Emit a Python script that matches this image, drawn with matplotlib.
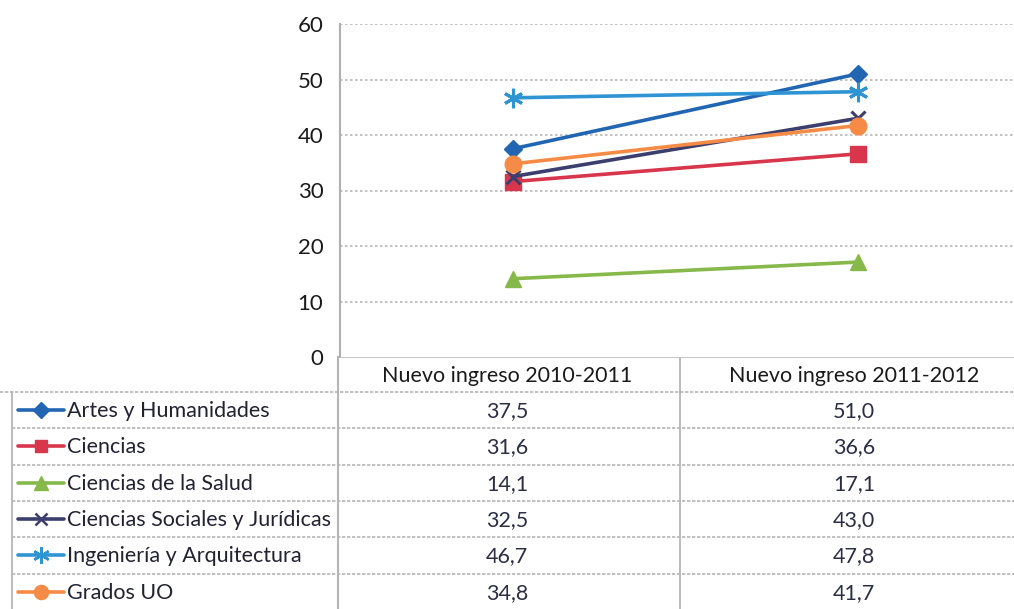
import matplotlib
matplotlib.use("Agg")
import matplotlib.pyplot as plt

plt.rcParams['font.family'] = ['Lato', 'DejaVu Sans']

# ---- data ----
periods = ["Nuevo ingreso 2010-2011", "Nuevo ingreso 2011-2012"]
series_names = ["Artes y Humanidades", "Ciencias", "Ciencias de la Salud",
                "Ciencias Sociales y Jurídicas", "Ingeniería y Arquitectura", "Grados UO"]
artes = [37.5, 51.0]
ciencias = [31.6, 36.6]
salud = [14.1, 17.1]
sociales = [32.5, 43.0]
ingenieria = [46.7, 47.8]
grados = [34.8, 41.7]
values = [artes, ciencias, salud, sociales, ingenieria, grados]
y_ticks = [0, 10, 20, 30, 40, 50, 60]

# ---- styles ----
colors = ['#2266b3', '#d8364c', '#86b84a', '#3c3f6e', '#2f94d4', '#f68b45']
markers = ['D', 's', '^', 'x', (6, 2, 0), 'o']
msizes = [9, 11, 12, 10, 14, 12]

W, H = 1014, 609
fig = plt.figure(figsize=(W / 100, H / 100), dpi=100)

# plot area in pixel coords
x0, x1 = 340, 1030
ytop, ybot = 24, 357
ax = fig.add_axes([x0 / W, 1 - ybot / H, (x1 - x0) / W, (ybot - ytop) / H])
ax.set_xlim(-0.5, 1.5)
ax.set_ylim(0, 60)
xs = list(range(len(periods)))
for vals, c, m, ms in zip(values, colors, markers, msizes):
    ax.plot(xs, vals, color=c, lw=2.6, marker=m, markersize=ms,
            markeredgewidth=2.2 if m in ('x', (6, 2, 0)) else 1, markeredgecolor=c,
            solid_capstyle='round', zorder=3)
ax.set_yticks(y_ticks)
ax.set_yticklabels([str(v) for v in y_ticks], fontsize=16, color='#1a1a1a')
ax.set_xticks([])
ax.tick_params(axis='y', length=0, pad=12)
for y in y_ticks[1:]:
    ax.axhline(y, color='#b8b8b8', lw=1.2, ls=(0, (1.5, 1.5)), zorder=1)
for s in ['top', 'right', 'bottom']:
    ax.spines[s].set_visible(False)
ax.spines['left'].set_color('#b0b0b0')
ax.spines['left'].set_linewidth(1.5)

# ---- data table drawn in pixel coords ----
tab = fig.add_axes([0, 0, 1, 1], zorder=-1)
tab.set_xlim(0, W)
tab.set_ylim(H, 0)
tab.axis('off')

grid_c = '#b5b5b5'
row_h = 36.3
row_top = 392
fs = 15.5
# header
tab.plot([x0, 1014], [ybot, ybot], color='#bbbbbb', lw=1.2)
for i, p in enumerate(periods):
    cx = 507 + i * 347
    tab.text(cx, (ybot + row_top) / 2 + 2, p, ha='center', va='center',
             fontsize=fs, color='#1a1a1a')
# vertical borders
tab.plot([12, 12], [row_top, H], color=grid_c, lw=1.3)
tab.plot([338, 338], [ybot, H], color=grid_c, lw=1.5)
tab.plot([680, 680], [ybot, H], color=grid_c, lw=1.3)
# horizontal borders
for r in range(len(series_names)):
    yl = row_top + r * row_h
    tab.plot([0 if r == 0 else 12, 1014], [yl, yl], color=grid_c, lw=1.2,
             ls=(0, (2, 1)))
for r, (name, vals, c, m, ms) in enumerate(zip(series_names, values, colors, markers, msizes)):
    cy = row_top + r * row_h + row_h / 2
    tab.plot([18, 64], [cy, cy], color=c, lw=2.6, solid_capstyle='round')
    tab.plot([41], [cy], color=c, marker=m, markersize=ms * 0.85,
             markeredgewidth=1.8 if m in ('x', (6, 2, 0)) else 1, markeredgecolor=c)
    tab.text(67, cy + 1, name, ha='left', va='center', fontsize=fs, color='#222233')
    for i, v in enumerate(vals):
        cx = 507 + i * 347
        tab.text(cx, cy + 1, f"{v:.1f}".replace('.', ','), ha='center', va='center',
                 fontsize=fs, color='#2b2f45')

fig.savefig("out.png", dpi=100)
